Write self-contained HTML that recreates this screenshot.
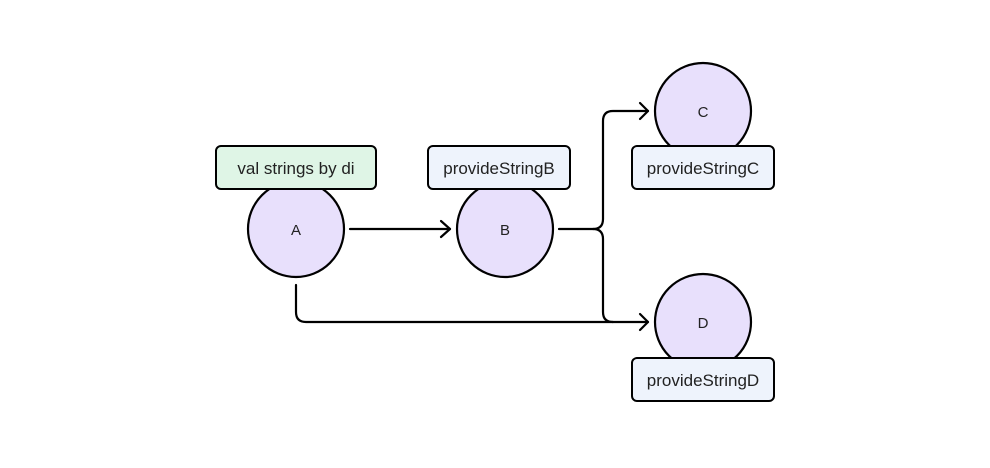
<!DOCTYPE html>
<html><head><style>body{margin:0;background:#fff}</style></head><body>
<svg width="990" height="463" xmlns="http://www.w3.org/2000/svg" font-family="Liberation Sans, sans-serif">
<g fill="none" stroke="#000" stroke-width="2.2" stroke-linecap="round" stroke-linejoin="round">
<path d="M350 229 H450"/><path d="M441 221 L450 229 L441 237"/>
<path d="M559 229 H593 Q603 229 603 219 V121 Q603 111 613 111 H648"/><path d="M640 103 L648 111 L640 119"/>
<path d="M593 229 Q603 229 603 239 V312 Q603 322 613 322"/>
<path d="M296 285 V312 Q296 322 306 322 H648"/><path d="M640 314 L648 322 L640 330"/>
</g>
<g fill="#e8e0fc" stroke="#000" stroke-width="2.2">
<circle cx="296" cy="229" r="48"/><circle cx="505" cy="229" r="48"/>
<circle cx="703" cy="111" r="48"/><circle cx="703" cy="322" r="48"/>
</g>
<g stroke="#000" stroke-width="2">
<rect x="216" y="146" width="160" height="43" rx="5" fill="#dff5e6"/>
<rect x="428" y="146" width="142" height="43" rx="5" fill="#eef3fc"/>
<rect x="632" y="146" width="142" height="43" rx="5" fill="#eef3fc"/>
<rect x="632" y="358" width="142" height="43" rx="5" fill="#eef3fc"/>
</g>
<g font-size="17" fill="#222" text-anchor="middle">
<text x="296" y="174">val strings by di</text>
<text x="499" y="174">provideStringB</text>
<text x="703" y="174">provideStringC</text>
<text x="703" y="386">provideStringD</text>
<g font-size="15"><text x="296" y="235">A</text><text x="505" y="235">B</text><text x="703" y="117">C</text><text x="703" y="328">D</text></g>
</g>
</svg>
</body></html>
